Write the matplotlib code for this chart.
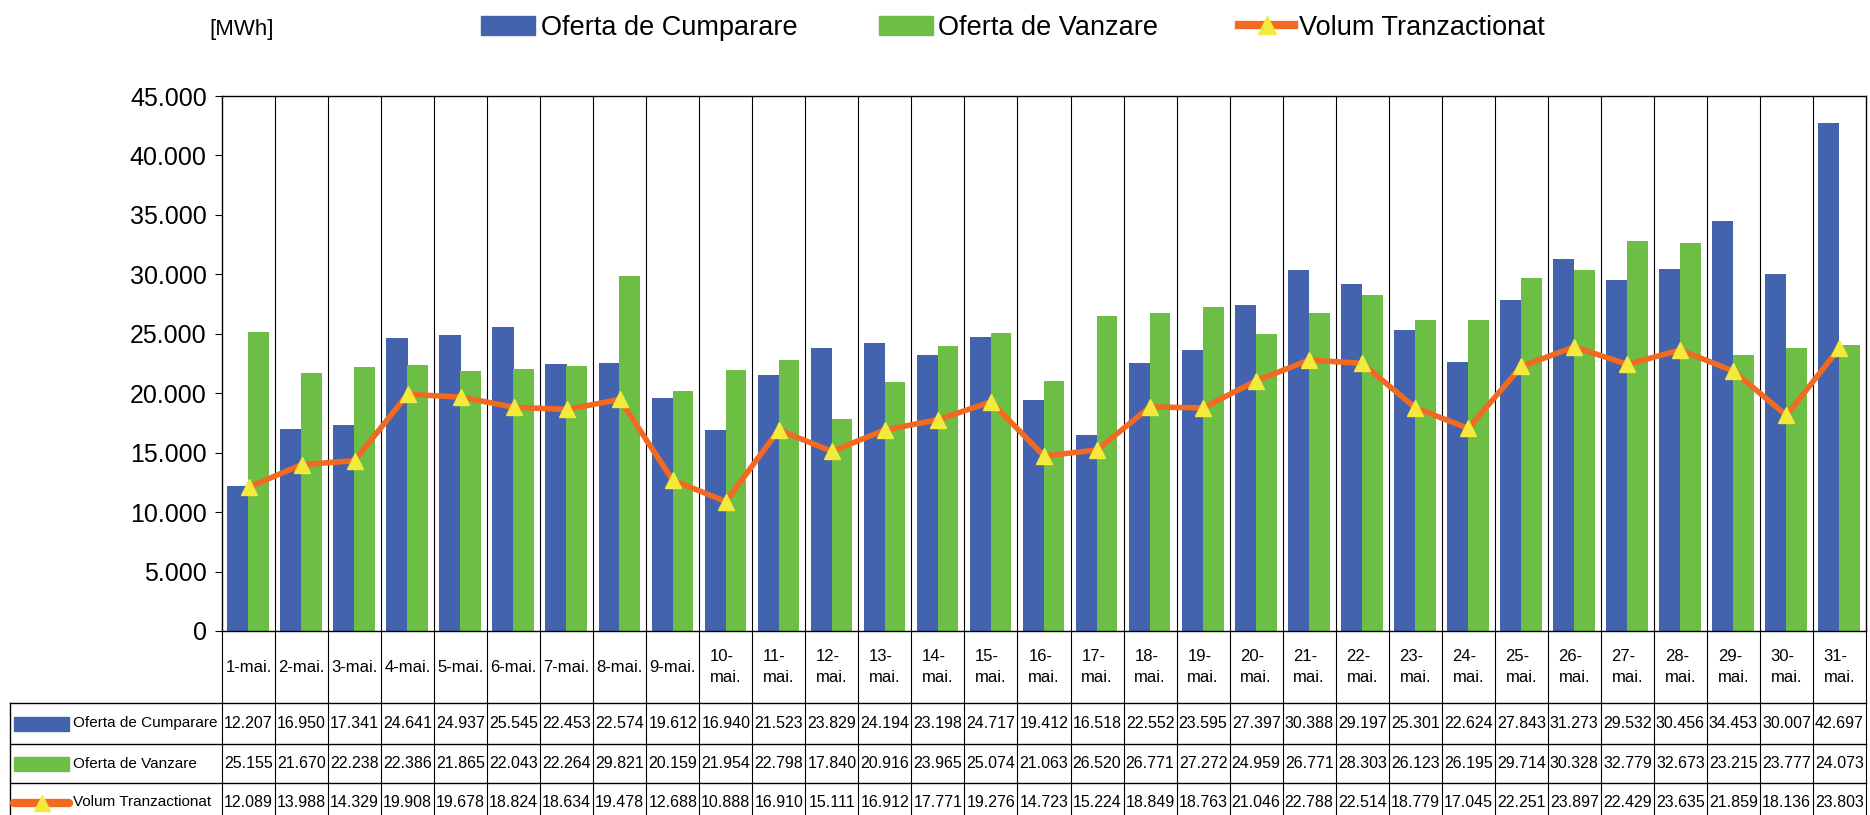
import matplotlib
matplotlib.use('Agg')
import matplotlib.pyplot as plt
from matplotlib import font_manager
from matplotlib.lines import Line2D
from matplotlib.patches import Patch, Rectangle
import numpy as np

# date din tabel, MWh, mai
zile = list(range(1, 32))
cumparare = [12207, 16950, 17341, 24641, 24937, 25545, 22453, 22574, 19612, 16940,
             21523, 23829, 24194, 23198, 24717, 19412, 16518, 22552, 23595, 27397,
             30388, 29197, 25301, 22624, 27843, 31273, 29532, 30456, 34453, 30007, 42697]
vanzare = [25155, 21670, 22238, 22386, 21865, 22043, 22264, 29821, 20159, 21954,
           22798, 17840, 20916, 23965, 25074, 21063, 26520, 26771, 27272, 24959,
           26771, 28303, 26123, 26195, 29714, 30328, 32779, 32673, 23215, 23777, 24073]
volum = [12089, 13988, 14329, 19908, 19678, 18824, 18634, 19478, 12688, 10888,
         16910, 15111, 16912, 17771, 19276, 14723, 15224, 18849, 18763, 21046,
         22788, 22514, 18779, 17045, 22251, 23897, 22429, 23635, 21859, 18136, 23803]
serii = ['Oferta de Cumparare', 'Oferta de Vanzare', 'Volum Tranzactionat']
yticks = list(range(0, 45001, 5000))

blue = '#4363ae'
green = '#6dbe45'
orange = '#f26a22'
yellow = '#f3ea3c'

names = {f.name for f in font_manager.fontManager.ttflist}
fam = 'Liberation Sans Narrow' if 'Liberation Sans Narrow' in names else 'Liberation Sans'
plt.rcParams['font.family'] = [fam, 'DejaVu Sans']

def fmt(v):
    return f'{v:,}'.replace(',', '.')

W, H = 1870, 815
fig = plt.figure(figsize=(W/100, H/100), dpi=100)
left, right, top, base = 222, 1866, 96, 631
ax = fig.add_axes([left/W, 1-base/H, (right-left)/W, (base-top)/H])

x = np.arange(len(zile))
ax.bar(x-0.2, cumparare, 0.4, color=blue, zorder=2)
ax.bar(x+0.19, vanzare, 0.39, color=green, zorder=2)
ax.plot(x, volum, color=orange, lw=4, marker='^', ms=11, mfc=yellow, mec=yellow, zorder=3)
ax.set_xlim(-0.5, len(zile)-0.5)
ax.set_ylim(0, 45000)
ax.set_yticks(yticks)
ax.set_yticklabels([fmt(v) for v in yticks], fontsize=18)
ax.tick_params(axis='y', length=5, pad=6)
ax.set_xticks([])
for b in np.arange(0.5, len(zile)-1, 1):
    ax.axvline(b, color='black', lw=0.8, zorder=1)
for s in ax.spines.values():
    s.set_linewidth(1)

# rand categorii + tabel (coordonate y in pixeli sub axa)
tab = fig.add_axes([left/W, 0, (right-left)/W, (H-base)/H])
tab.set_xlim(-0.5, len(zile)-0.5)
tab.set_ylim(H-base, 0)
tab.axis('off')
cw = (right-left)/len(zile)
px = lambda p: (p-left)/cw - 0.5
x0 = px(10)
rows = [72, 113, 152, 191]
for b in np.arange(-0.5, len(zile), 1):
    tab.plot([b, b], [0, 200], color='black', lw=0.8, clip_on=False)
tab.plot([x0, x0], [rows[0], 200], color='black', lw=1, clip_on=False)
for r in rows[:3]:
    tab.plot([x0, len(zile)-0.5], [r, r], color='black', lw=1, clip_on=False)

for i, d in enumerate(zile):
    lab = f'{d}-mai.' if d < 10 else f'{d}-\nmai.'
    tab.text(i, 36, lab, ha='center', va='center', fontsize=12, multialignment='left', linespacing=1.45)

for k, vals in enumerate([cumparare, vanzare, volum]):
    yc = (rows[k] + rows[k+1]) / 2
    for i, v in enumerate(vals):
        tab.text(i, yc, fmt(v), ha='center', va='center', fontsize=11.5)
    tab.text(px(73), yc, serii[k], ha='left', va='center', fontsize=11, clip_on=False)
    if k < 2:
        tab.add_patch(Rectangle((px(14), yc-7), px(69)-px(14), 14,
                                color=[blue, green][k], clip_on=False))
    else:
        tab.plot([px(14), px(69)], [yc, yc], color=orange, lw=6, solid_capstyle='round', clip_on=False)
        tab.plot([(px(14)+px(69))/2], [yc], marker='^', ms=11, color=yellow, clip_on=False)

handles = [Patch(color=blue), Patch(color=green),
           Line2D([], [], color=orange, lw=6, marker='^', ms=13, mfc=yellow, mec=yellow)]
fig.legend(handles, serii, loc='center', bbox_to_anchor=(1013/W, 0.966), ncol=3,
           frameon=False, fontsize=19.5, handlelength=2.0, handletextpad=0.2, columnspacing=3.0)
fig.text(209/W, 1-30/H, '[MWh]', fontsize=16, ha='left', va='center')

fig.savefig('out.png', dpi=100)
